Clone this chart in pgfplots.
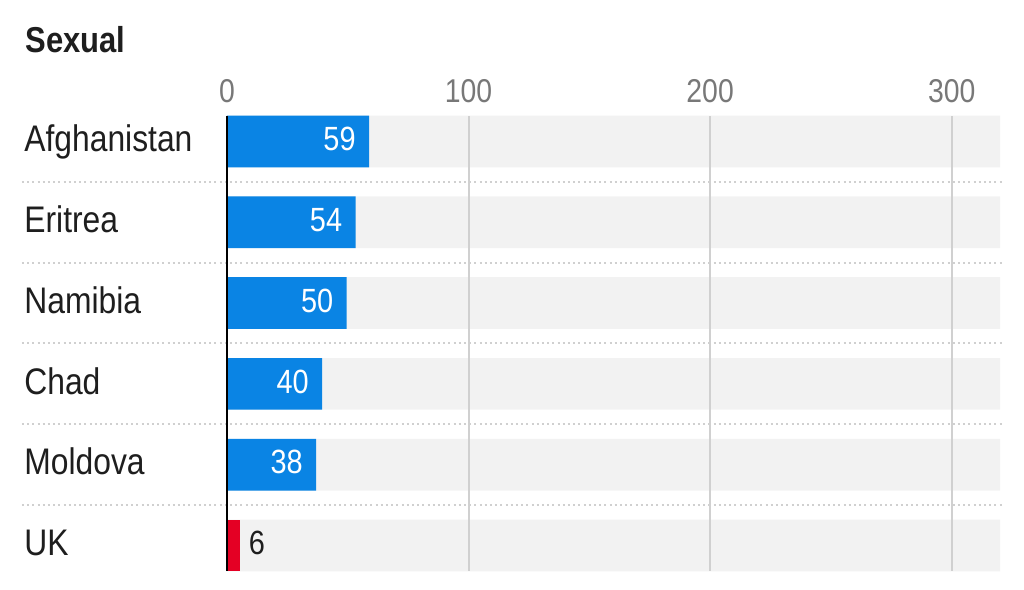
\documentclass[border=0pt]{standalone}
\usepackage{pgfplots}
\pgfplotsset{compat=1.18}
\usepackage{fontspec}
\setmainfont{Liberation Sans}[FakeStretch=0.86]
\definecolor{barblue}{RGB}{10,132,228}
\definecolor{barred}{RGB}{228,0,36}
\definecolor{bggray}{RGB}{242,242,242}
\definecolor{gridgray}{RGB}{208,208,208}
\definecolor{tickgray}{RGB}{120,120,120}
\definecolor{txt}{RGB}{30,30,30}
\begin{document}
\begin{tikzpicture}
\path[use as bounding box] (-113.5bp,-9.5bp) rectangle (398.5bp,285.5bp);
\begin{axis}[
  at={(0,0)}, anchor=south west,
  width=386.5bp, height=227.5bp, scale only axis,
  xmin=0, xmax=320, ymin=-0.316, ymax=5.316,
  axis line style={draw=none}, major tick length=0pt,
  xtick={0,100,200,300}, xticklabel pos=upper,
  xmajorgrids, grid style={gridgray, line width=1bp},
  extra x ticks={0}, extra x tick labels={},
  extra x tick style={grid style={black, line width=1bp}},
  ytick={0,1,2,3,4,5},
  yticklabels={UK,Moldova,Chad,Namibia,Eritrea,Afghanistan},
  yticklabel style={anchor=base west, inner sep=0pt, xshift=-101.5bp, yshift=-5.1bp,
    font=\fontsize{18.5bp}{22bp}\selectfont, text=txt},
  xticklabel style={anchor=base, inner sep=0pt, yshift=6.65bp,
    font=\fontsize{16.5bp}{20bp}\selectfont, text=tickgray},
  /pgf/number format/assume math mode=true,
  axis on top, clip=false,
  every axis title shift=0pt,
  title={Sexual},
  title style={anchor=base west, at={(axis description cs:-0.2613,1)}, yshift=31.65bp,
    inner sep=0pt, font=\fontsize{18bp}{22bp}\selectfont\bfseries, text=txt},
]
% background bars
\addplot[xbar, bar width=0.64, bar shift=0pt, fill=bggray, draw=none]
  coordinates {(320,0) (320,1) (320,2) (320,3) (320,4) (320,5)};
% row separators
\draw[gridgray, line width=1bp, dash pattern=on 1bp off 1.6bp] (axis cs:-84.9,0.5) -- (axis cs:321.2,0.5);
\draw[gridgray, line width=1bp, dash pattern=on 1bp off 1.6bp] (axis cs:-84.9,1.5) -- (axis cs:321.2,1.5);
\draw[gridgray, line width=1bp, dash pattern=on 1bp off 1.6bp] (axis cs:-84.9,2.5) -- (axis cs:321.2,2.5);
\draw[gridgray, line width=1bp, dash pattern=on 1bp off 1.6bp] (axis cs:-84.9,3.5) -- (axis cs:321.2,3.5);
\draw[gridgray, line width=1bp, dash pattern=on 1bp off 1.6bp] (axis cs:-84.9,4.5) -- (axis cs:321.2,4.5);
% blue bars
\addplot[xbar, bar width=0.64, bar shift=0pt, fill=barblue, draw=none,
  point meta=explicit symbolic, nodes near coords,
  every node near coord/.append style={anchor=base east, xshift=-6.5bp, yshift=-4.6bp,
    inner sep=0pt, text=white, font=\fontsize{16.8bp}{20bp}\selectfont}]
  coordinates {(58.8,5) [59] (53.2,4) [54] (49.5,3) [50] (39.4,2) [40] (36.9,1) [38]};
% UK bar
\addplot[xbar, bar width=0.64, bar shift=0pt, fill=barred, draw=none,
  point meta=explicit symbolic, nodes near coords,
  every node near coord/.append style={anchor=base west, xshift=4.25bp, yshift=-4.6bp,
    inner sep=0pt, text=txt, font=\fontsize{16.8bp}{20bp}\selectfont}]
  coordinates {(5.4,0) [6]};
\end{axis}
\end{tikzpicture}
\end{document}
